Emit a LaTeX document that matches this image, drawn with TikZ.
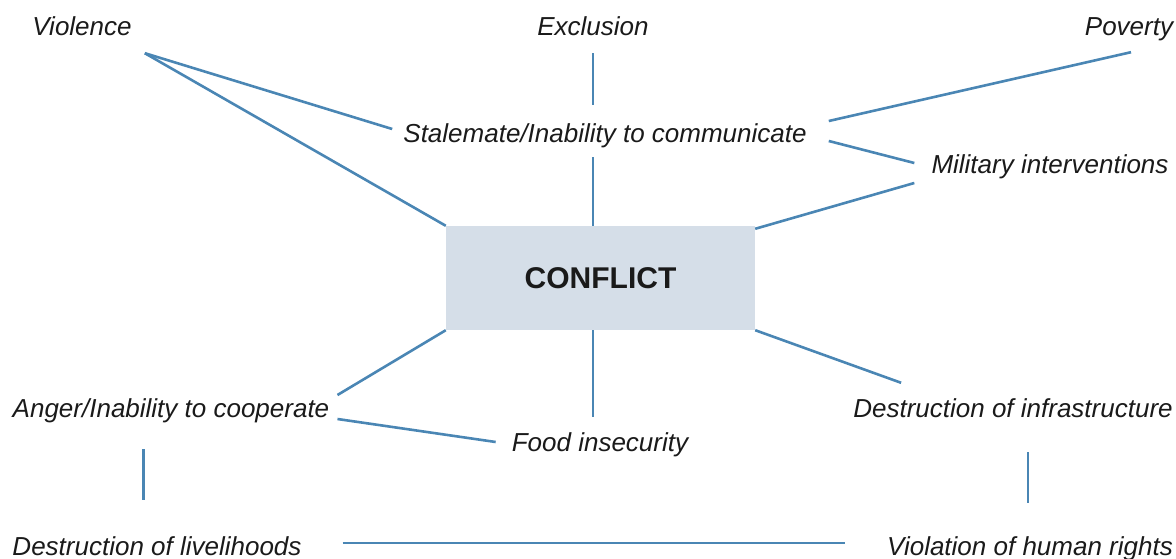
\documentclass[tikz,border=0pt]{standalone}
\usepackage{fontspec}
\setmainfont{Liberation Sans}
\usetikzlibrary{calc}
\definecolor{cfInk}{HTML}{1A1A1A}
\definecolor{cfLine}{HTML}{4A86B4}
\definecolor{cfBox}{HTML}{D5DEE8}
\tikzset{
 causes/.style={line cap=butt,text=cfInk},
 topic/.style={font=\fontsize{26}{30}\selectfont\itshape,inner sep=0pt,
   text height=19pt,text depth=6pt,anchor=base},
 core/.style={rectangle,fill=cfBox,inner sep=0pt,minimum width=309pt,minimum height=104pt,
   font=\fontsize{30}{36}\selectfont\bfseries},
 link/.style={draw=cfLine,line width=2.6pt}
}
\begin{document}
\begin{tikzpicture}[causes,x=1pt,y=-1pt]
 \useasboundingbox (0,0) rectangle (1176,559);
 \node[core] (conflict) at (600.5,278) {CONFLICT};
 \node[topic] (violence) at (82,36) {Violence};
 \node[topic] (exclusion) at (593,36) {Exclusion};
 \node[topic] (poverty) at (1129,36) {Poverty};
 \node[topic] (stalemate) at (605,143) {Stalemate/Inability to communicate};
 \node[topic] (military) at (1050,174) {Military interventions};
 \node[topic] (anger) at (171,417) {Anger/Inability to cooperate};
 \node[topic] (infra) at (1013,417) {Destruction of infrastructure};
 \node[topic] (food) at (600,451) {Food insecurity};
 \node[topic] (livelihoods) at (157,555) {Destruction of livelihoods};
 \node[topic] (rights) at (1030,555) {Violation of human rights};
 % upper half
 \draw[link] ($(violence.south east)+(13,11)$) -- ($(stalemate.west)+(-11,-7.5)$);
 \draw[link] ($(violence.south east)+(13,11)$) -- (conflict.north west);
 \draw[link] ($(exclusion.south)+(0,11)$) -- ($(exclusion.south |- stalemate.north)+(0,-19)$);
 \draw[link] ($(exclusion.south |- stalemate.south)+(0,8)$) -- (exclusion.south |- conflict.north);
 \draw[link] ($(poverty.south)+(2,10)$) -- ($(stalemate.east)+(22,-15.5)$);
 \draw[link] ($(stalemate.east)+(22,4.5)$) -- ($(military.west)+(-17,-4.5)$);
 \draw[link] ($(military.west)+(-17,15.5)$) -- ($(conflict.north east)+(0,3)$);
 % lower half
 \draw[link] (conflict.south west) -- ($(anger.east)+(8,-15.5)$);
 \draw[link] (exclusion.south |- conflict.south) -- ($(exclusion.south |- food.north)+(0,-15)$);
 \draw[link] (conflict.south east) -- ($(infra.north west)+(48,-15)$);
 \draw[link] ($(anger.east)+(8,8.5)$) -- ($(food.west)+(-16,-2.5)$);
 \draw[link] ($(anger.south west)+(131,26)$) -- ($(anger.south west |- livelihoods.north)+(131,-36)$);
 \draw[link] ($(infra.south)+(15,29)$) -- ($(infra.south |- rights.north)+(15,-33)$);
 \draw[link] ($(livelihoods.east)+(41,-5.5)$) -- ($(rights.west)+(-42,-5.5)$);
\end{tikzpicture}
\end{document}
